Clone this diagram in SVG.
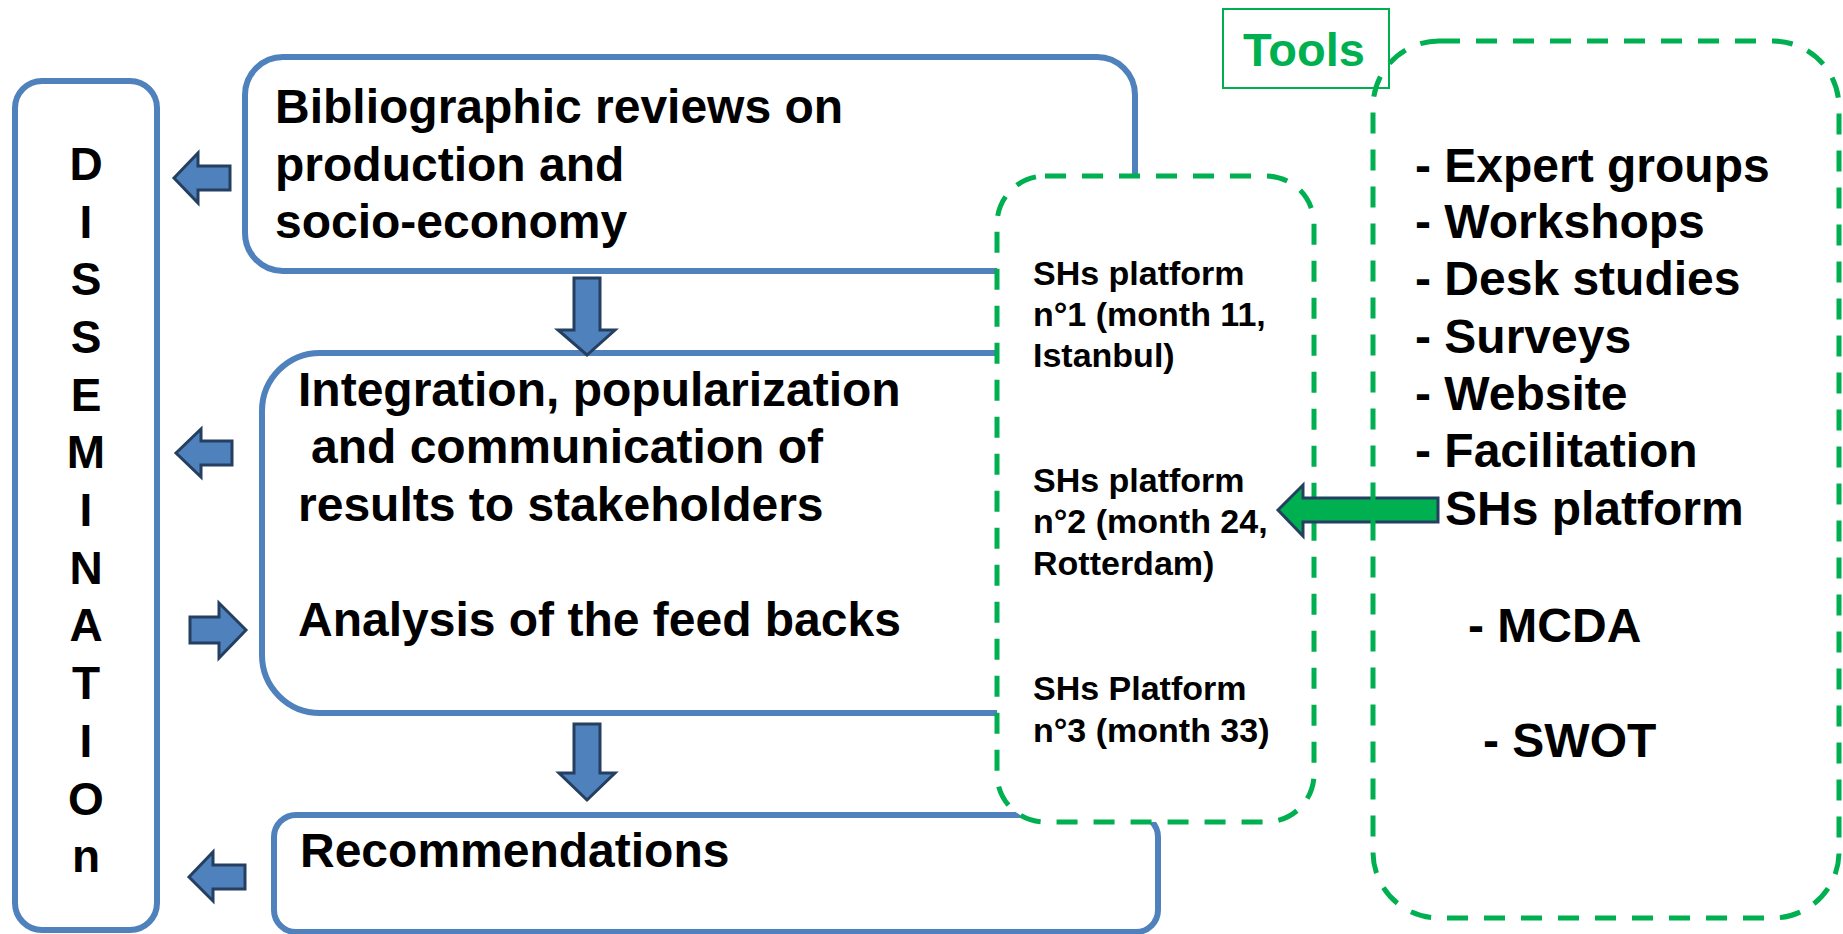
<svg xmlns="http://www.w3.org/2000/svg" width="1843" height="934" viewBox="0 0 1843 934">
  <style>
    .bbox { fill: #FFFFFF; stroke: #4F81BD; stroke-width: 6; }
    .gdash { stroke: #00B050; stroke-width: 5; stroke-dasharray: 21 16; }
    .barrow { fill: #4F81BD; stroke: #243F60; stroke-width: 3; stroke-linejoin: miter; }
    .garrow { fill: #00B050; stroke: #243F60; stroke-width: 3; stroke-linejoin: miter; }
    .t { font-family: "Liberation Sans", Arial, sans-serif; font-weight: bold; fill: #000000; }
    .big { font-size: 48px; }
    .vert { font-size: 46px; text-anchor: middle; }
    .small { font-size: 34px; }
    .green { fill: #00B050; font-size: 47px; }
  </style>

  <rect width="1843" height="934" fill="#FFFFFF"/>

  <!-- Dissemination column -->
  <g id="dissemination">
    <rect class="bbox" x="15" y="81" width="142" height="849" rx="27"/>
    <text class="t vert" x="86" y="180">D</text>
    <text class="t vert" x="86" y="238">I</text>
    <text class="t vert" x="86" y="295">S</text>
    <text class="t vert" x="86" y="353">S</text>
    <text class="t vert" x="86" y="411">E</text>
    <text class="t vert" x="86" y="468">M</text>
    <text class="t vert" x="86" y="526">I</text>
    <text class="t vert" x="86" y="584">N</text>
    <text class="t vert" x="86" y="641">A</text>
    <text class="t vert" x="86" y="699">T</text>
    <text class="t vert" x="86" y="757">I</text>
    <text class="t vert" x="86" y="815">O</text>
    <text class="t vert" x="86" y="872">n</text>
  </g>

  <!-- Bibliographic reviews -->
  <g id="reviews">
    <rect class="bbox" x="245" y="57" width="890" height="214" rx="38"/>
    <text class="t big" x="275" y="123">Bibliographic reviews on</text>
    <text class="t big" x="275" y="181">production and</text>
    <text class="t big" x="275" y="238">socio-economy</text>
  </g>

  <!-- Integration and feedback analysis -->
  <g id="integration">
    <rect class="bbox" x="262" y="353" width="878" height="360" rx="58"/>
    <text class="t big" x="298" y="406">Integration, popularization</text>
    <text class="t big" x="311" y="463">and communication of</text>
    <text class="t big" x="298" y="521">results to stakeholders</text>
    <text class="t big" x="298" y="636">Analysis of the feed backs</text>
  </g>

  <!-- Recommendations -->
  <g id="recommendations">
    <rect class="bbox" x="274" y="815" width="884" height="117" rx="22"/>
    <text class="t big" x="300" y="867">Recommendations</text>
  </g>

  <!-- Stakeholder platforms -->
  <g id="platforms">
    <rect class="gdash" fill="#FFFFFF" x="997" y="176" width="317" height="646" rx="48"/>
    <text class="t small" x="1033" y="285">SHs platform</text>
    <text class="t small" x="1033" y="326">n°1 (month 11,</text>
    <text class="t small" x="1033" y="367">Istanbul)</text>
    <text class="t small" x="1033" y="492">SHs platform</text>
    <text class="t small" x="1033" y="533">n°2 (month 24,</text>
    <text class="t small" x="1033" y="575">Rotterdam)</text>
    <text class="t small" x="1033" y="700">SHs Platform</text>
    <text class="t small" x="1033" y="742">n°3 (month 33)</text>
  </g>

  <!-- Connectors -->
  <g id="connectors">
    <polygon class="barrow" points="174,178 198,153 198,166 230,166 230,190 198,190 198,203"/>
    <polygon class="barrow" points="176,453 201,429 201,441 232,441 232,465 201,465 201,477"/>
    <polygon class="barrow" points="246,630 219,603 219,617 190,617 190,643 219,643 219,658"/>
    <polygon class="barrow" points="189,877 213,852 213,865 245,865 245,889 213,889 213,901"/>
    <polygon class="barrow" points="574,278 600,278 600,330 615,330 587,355 558,330 574,330"/>
    <polygon class="barrow" points="574,724 600,724 600,773 615,773 587,800 559,773 574,773"/>
    <polygon class="garrow" points="1278,510 1303,485 1303,498 1438,498 1438,522 1303,522 1303,536"/>
  </g>

  <!-- Tools -->
  <g id="tools-label">
    <rect x="1223" y="9" width="166" height="79" fill="#FFFFFF" stroke="#00B050" stroke-width="2"/>
    <text class="t green" x="1243" y="66">Tools</text>
  </g>

  <g id="tools">
    <rect class="gdash" fill="none" x="1373" y="41" width="466" height="877" rx="66"/>
    <text class="t big" x="1415" y="182">- Expert groups</text>
    <text class="t big" x="1415" y="238">- Workshops</text>
    <text class="t big" x="1415" y="295">- Desk studies</text>
    <text class="t big" x="1415" y="353">- Surveys</text>
    <text class="t big" x="1415" y="410">- Website</text>
    <text class="t big" x="1415" y="467">- Facilitation</text>
    <text class="t big" x="1445" y="525">SHs platform</text>
    <text class="t big" x="1468" y="642">- MCDA</text>
    <text class="t big" x="1483" y="757">- SWOT</text>
  </g>
</svg>
